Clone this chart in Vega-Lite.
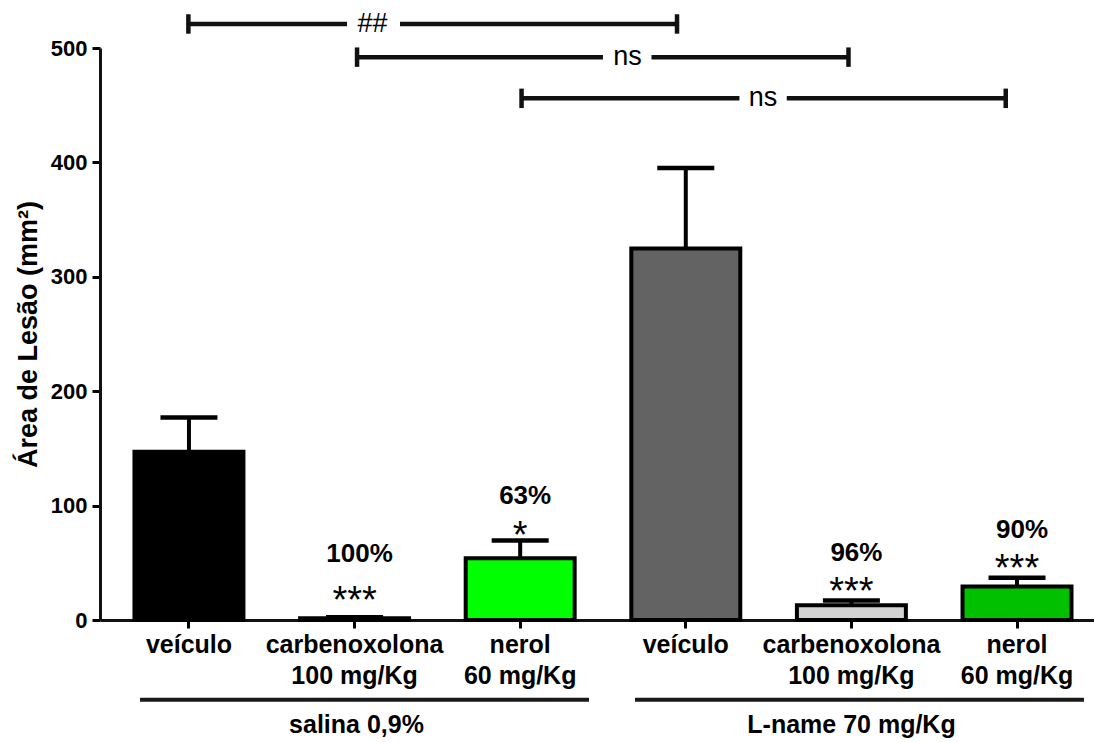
{
  "$schema": "https://vega.github.io/schema/vega-lite/v6.json",
  "width": 994,
  "height": 572,
  "autosize": {"type": "none"},
  "padding": {"left": 100, "top": 48, "right": 0, "bottom": 122},
  "background": "white",
  "config": {"view": {"stroke": null}, "font": "Liberation Sans"},
  "datasets": {
    "bars": [
      {"bar": "salina 0,9%|veículo", "mean": 147, "upper": 177},
      {"bar": "salina 0,9%|carbenoxolona|100 mg/Kg", "mean": 1.5, "upper": 2.5, "pct": "100%", "pct_y": 51, "stars": "***", "stars_y": 5.9},
      {"bar": "salina 0,9%|nerol|60 mg/Kg", "mean": 54, "upper": 69.5, "pct": "63%", "pct_y": 101, "stars": "*", "stars_y": 62.7},
      {"bar": "L-name 70 mg/Kg|veículo", "mean": 324.7, "upper": 395},
      {"bar": "L-name 70 mg/Kg|carbenoxolona|100 mg/Kg", "mean": 13, "upper": 17, "pct": "96%", "pct_y": 52, "stars": "***", "stars_y": 13.8},
      {"bar": "L-name 70 mg/Kg|nerol|60 mg/Kg", "mean": 29.3, "upper": 37, "pct": "90%", "pct_y": 72, "stars": "***", "stars_y": 33.9}
    ],
    "groups": [
      {"group": "salina 0,9%"},
      {"group": "L-name 70 mg/Kg"}
    ],
    "segments": [
      {"x1": 0.889, "x2": 2.485, "y1": 521, "y2": 521},
      {"x1": 3.018, "x2": 5.805, "y1": 521, "y2": 521},
      {"x1": 0.889, "x2": 0.889, "y1": 512.5, "y2": 529.5},
      {"x1": 5.805, "x2": 5.805, "y1": 512.5, "y2": 529.5},
      {"x1": 2.586, "x2": 5.06, "y1": 492, "y2": 492},
      {"x1": 5.548, "x2": 7.53, "y1": 492, "y2": 492},
      {"x1": 2.586, "x2": 2.586, "y1": 483.5, "y2": 500.5},
      {"x1": 7.53, "x2": 7.53, "y1": 483.5, "y2": 500.5},
      {"x1": 4.241, "x2": 6.433, "y1": 456, "y2": 456},
      {"x1": 6.909, "x2": 9.112, "y1": 456, "y2": 456},
      {"x1": 4.241, "x2": 4.241, "y1": 447.5, "y2": 464.5},
      {"x1": 9.112, "x2": 9.112, "y1": 447.5, "y2": 464.5}
    ],
    "bracketLabels": [
      {"x": 2.742, "y": 521, "label": "##"},
      {"x": 5.308, "y": 492, "label": "ns"},
      {"x": 6.67, "y": 456, "label": "ns"}
    ]
  },
  "layer": [
    {
      "data": {"name": "bars"},
      "encoding": {
        "x": {
          "field": "bar", "type": "nominal", "sort": null,
          "scale": {"type": "band", "paddingInner": 0.342, "paddingOuter": 0.172, "align": 0.605},
          "axis": {
            "title": null,
            "labelExpr": "slice(split(datum.label, '|'), 1)",
            "labelFont": "Liberation Sans", "labelFontWeight": "bold", "labelFontSize": 25,
            "labelColor": "black", "labelLineHeight": 31, "labelPadding": 4,
            "labelAngle": 0, "labelLimit": 400, "labelOverlap": false, "labelBound": false,
            "tickSize": 8, "tickWidth": 3, "tickColor": "black",
            "domainWidth": 3, "domainColor": "#111111"
          }
        }
      },
      "layer": [
        {
          "mark": {"type": "rule", "strokeWidth": 4, "color": "black"},
          "encoding": {
            "y": {
              "field": "mean", "type": "quantitative",
              "scale": {"domain": [0, 500], "nice": false, "zero": true},
              "axis": {
                "title": "Área de Lesão (mm²)", "titleFont": "Liberation Sans", "titleFontSize": 27,
                "titleFontWeight": "bold", "titleColor": "black", "titlePadding": 8,
                "values": [0, 100, 200, 300, 400, 500],
                "labelFont": "Liberation Sans", "labelFontSize": 22, "labelFontWeight": "bold",
                "labelColor": "black", "labelPadding": 5,
                "tickSize": 8, "tickWidth": 3, "tickColor": "black",
                "domainWidth": 3, "domainColor": "#111111", "grid": false
              }
            },
            "y2": {"field": "upper"}
          }
        },
        {
          "mark": {"type": "tick", "size": 57, "thickness": 4.5, "color": "black", "opacity": 1},
          "encoding": {"y": {"field": "upper", "type": "quantitative"}}
        },
        {
          "mark": {"type": "bar", "stroke": "black", "strokeWidth": 4, "opacity": 1},
          "encoding": {
            "y": {"field": "mean", "type": "quantitative"},
            "fill": {
              "field": "bar", "type": "nominal", "legend": null,
              "scale": {
                "domain": ["salina 0,9%|veículo", "salina 0,9%|carbenoxolona|100 mg/Kg", "salina 0,9%|nerol|60 mg/Kg", "L-name 70 mg/Kg|veículo", "L-name 70 mg/Kg|carbenoxolona|100 mg/Kg", "L-name 70 mg/Kg|nerol|60 mg/Kg"],
                "range": ["#000000", "#ffffff", "#00ff00", "#636363", "#d3d3d3", "#00c000"]
              }
            }
          }
        },
        {
          "transform": [{"filter": "isValid(datum.pct)"}],
          "mark": {"type": "text", "font": "Liberation Sans", "fontWeight": "bold", "fontSize": 26, "baseline": "alphabetic", "dx": 5, "color": "black"},
          "encoding": {
            "y": {"field": "pct_y", "type": "quantitative"},
            "text": {"field": "pct"}
          }
        },
        {
          "transform": [{"filter": "isValid(datum.stars)"}],
          "mark": {"type": "text", "font": "Liberation Sans", "fontSize": 38, "baseline": "alphabetic", "color": "black"},
          "encoding": {
            "y": {"field": "stars_y", "type": "quantitative"},
            "text": {"field": "stars"}
          }
        }
      ]
    },
    {
      "data": {"name": "groups"},
      "encoding": {
        "x": {
          "field": "group", "type": "nominal", "sort": null,
          "scale": {"type": "band", "paddingInner": 0.0929, "paddingOuter": 0.0505, "align": 0.8},
          "axis": null
        }
      },
      "layer": [
        {
          "mark": {"type": "bar", "color": "#1a1a1a"},
          "encoding": {
            "y": {"datum": -68, "type": "quantitative"},
            "y2": {"datum": -71.5}
          }
        },
        {
          "mark": {"type": "text", "font": "Liberation Sans", "fontWeight": "bold", "fontSize": 25, "baseline": "alphabetic", "dx": -8, "color": "black"},
          "encoding": {
            "y": {"datum": -98.8, "type": "quantitative"},
            "text": {"field": "group"}
          }
        }
      ]
    },
    {
      "data": {"name": "segments"},
      "mark": {"type": "rule", "strokeWidth": 4.5, "color": "#111111"},
      "encoding": {
        "x": {"field": "x1", "type": "quantitative", "scale": {"domain": [0, 10], "nice": false, "zero": false}, "axis": null},
        "x2": {"field": "x2"},
        "y": {"field": "y1", "type": "quantitative"},
        "y2": {"field": "y2"}
      }
    },
    {
      "data": {"name": "bracketLabels"},
      "mark": {"type": "text", "font": "Liberation Sans", "fontSize": 27, "baseline": "middle", "color": "black"},
      "encoding": {
        "x": {"field": "x", "type": "quantitative", "scale": {"domain": [0, 10], "nice": false, "zero": false}, "axis": null},
        "y": {"field": "y", "type": "quantitative"},
        "text": {"field": "label"}
      }
    }
  ],
  "resolve": {"scale": {"x": "independent"}}
}
